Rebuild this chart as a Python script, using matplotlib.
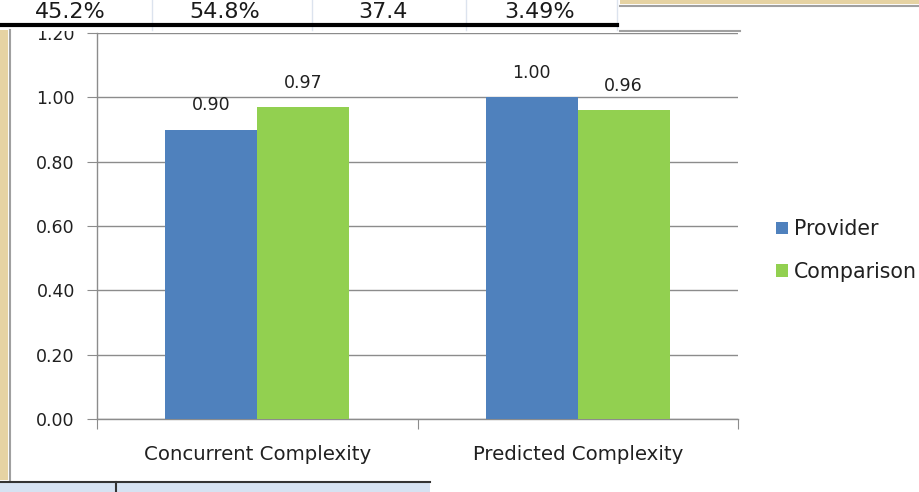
import matplotlib
matplotlib.use("Agg")
import matplotlib.pyplot as plt
from matplotlib.patches import Rectangle
from matplotlib.lines import Line2D
import numpy as np

categories = ["Concurrent Complexity", "Predicted Complexity"]
provider = [0.90, 1.00]
comparison = [0.97, 0.96]
series_names = ["Provider", "Comparison"]
table_values = ["45.2%", "54.8%", "37.4", "3.49%"]

W, H = 919, 492
fig = plt.figure(figsize=(W / 100, H / 100), dpi=100)
fig.patch.set_facecolor("white")

def fx(px):
    return px / W

def fy(py):
    return 1 - py / H

ax = fig.add_axes([fx(97), fy(419), fx(738) - fx(97), fy(33) - fy(419)])
text_color = "#202020"
blue = "#4F81BD"
green = "#92D050"
grid_c = "#8C8C8C"

x = np.arange(len(categories))
bw = 0.287
b1 = ax.bar(x - bw / 2, provider, bw, color=blue, label=series_names[0], zorder=3)
b2 = ax.bar(x + bw / 2, comparison, bw, color=green, label=series_names[1], zorder=3)
for bars, vals in ((b1, provider), (b2, comparison)):
    for r, v in zip(bars, vals):
        ax.annotate(f"{v:.2f}", (r.get_x() + r.get_width() / 2, v), xytext=(0, 11),
                    textcoords="offset points", ha="center", va="bottom",
                    fontsize=12.5, color=text_color)

ax.set_xlim(-0.5, 1.5)
ax.set_ylim(0, 1.2)
yt = np.arange(0, 1.21, 0.2)
ax.set_yticks(yt)
ax.set_yticklabels([f"{v:.2f}" for v in yt], fontsize=12.5, color=text_color)
ax.yaxis.grid(True, color=grid_c, linewidth=1.0, zorder=0)
ax.set_axisbelow(True)

ax.set_xticks([-0.5, 0.5, 1.5])
ax.set_xticklabels([])
ax.set_xticks(x, minor=True)
ax.set_xticklabels(categories, minor=True, fontsize=14.2, color=text_color)
ax.tick_params(axis="x", which="minor", length=0, pad=18.5)
ax.tick_params(axis="x", which="major", length=7, color=grid_c, direction="out")
ax.tick_params(axis="y", length=7, color=grid_c, direction="out", pad=9)

for s in ("top", "right"):
    ax.spines[s].set_visible(False)
for s in ("left", "bottom"):
    ax.spines[s].set_color(grid_c)
    ax.spines[s].set_linewidth(1.0)

leg = fig.legend(handles=[b1, b2], labels=series_names, loc="upper left",
                 bbox_to_anchor=(fx(766), fy(209)), frameon=False, fontsize=14.8,
                 handlelength=0.55, handleheight=0.55, handletextpad=0.3,
                 labelspacing=1.1, borderpad=0, labelcolor=text_color)

# screenshot decorations: table row on top, side strips
fig.patches.append(Rectangle((0, fy(31)), fx(617), 1 - fy(31), transform=fig.transFigure,
                             facecolor="white", edgecolor="none", zorder=10))
for xp, t in zip([70, 225, 383, 540], table_values):
    fig.text(fx(xp), fy(12), t, ha="center", va="center", fontsize=16,
             color="#1a1a1a", zorder=11)
for xp in [152, 312, 466, 617]:
    fig.add_artist(Line2D([fx(xp), fx(xp)], [fy(0), fy(30)], transform=fig.transFigure,
                          color="#DCE3EE", linewidth=1, zorder=11))
fig.add_artist(Line2D([0, fx(617)], [fy(25), fy(25)], transform=fig.transFigure,
                      color="black", linewidth=3, zorder=12))
fig.patches.append(Rectangle((fx(620), fy(4)), 1 - fx(620), fy(0) - fy(4),
                             transform=fig.transFigure, facecolor="#E6D3A3",
                             edgecolor="none", zorder=11))
fig.add_artist(Line2D([fx(620), 1], [fy(6), fy(6)], transform=fig.transFigure,
                      color="#A0A0A0", linewidth=1.5, zorder=11))
fig.add_artist(Line2D([fx(620), fx(740)], [fy(31), fy(31)], transform=fig.transFigure,
                      color="#A0A0A0", linewidth=1.5, zorder=11))
fig.patches.append(Rectangle((0, fy(480)), fx(8), fy(30) - fy(480),
                             transform=fig.transFigure, facecolor="#E6D3A3",
                             edgecolor="none", zorder=11))
fig.add_artist(Line2D([fx(10), fx(10)], [fy(30), fy(480)], transform=fig.transFigure,
                      color="#A0A0A0", linewidth=1.5, zorder=11))
fig.patches.append(Rectangle((0, 0), fx(430), fy(483), transform=fig.transFigure,
                             facecolor="#D6E2F2", edgecolor="none", zorder=11))
fig.add_artist(Line2D([0, fx(430)], [fy(482), fy(482)], transform=fig.transFigure,
                      color="#333333", linewidth=1.5, zorder=12))
fig.add_artist(Line2D([fx(116), fx(116)], [fy(482), 0], transform=fig.transFigure,
                      color="#333333", linewidth=1.5, zorder=12))

fig.savefig("out.png", dpi=100, facecolor="white")
